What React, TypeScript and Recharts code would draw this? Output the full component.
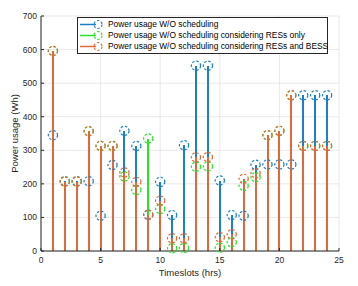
import { ComposedChart, Bar, Scatter, XAxis, YAxis, CartesianGrid, Legend } from "recharts"

const timeslots = [1, 2, 3, 4, 5, 6, 7, 8, 9, 10, 11, 12, 13, 14, 15, 16, 17, 18, 19, 20, 21, 22, 23, 24]
const usageNoSched = [345, 208, 208, 208, 105, 256, 358, 313, 108, 206, 107, 315, 552, 552, 210, 107, 105, 257, 258, 258, 258, 464, 464, 464]
const usageRes = [596, 207, 207, 357, 313, 313, 222, 182, 335, 125, 8, 9, 251, 252, 10, 26, 194, 220, 345, 358, 464, 313, 313, 313]
const usageResBess = [596, 207, 207, 357, 313, 313, 234, 206, 108, 150, 38, 38, 279, 280, 41, 50, 215, 232, 345, 358, 464, 313, 313, 313]

const xTicks = [0, 5, 10, 15, 20, 25]
const yTicks = [0, 100, 200, 300, 400, 500, 600, 700]
const seriesNames = [
  "Power usage W/O scheduling",
  "Power usage W/O scheduling considering RESs only",
  "Power usage W/O scheduling considering RESs and BESS",
]

const BLUE = "#1a80c8"
const GREEN = "#22e622"
const ORANGE = "#e0683a"
const colors = [BLUE, GREEN, ORANGE]
const AXIS = "#262626"
const FONT = "'Liberation Sans', Arial, sans-serif"

const data = timeslots.map((t, i) => ({
  t,
  blue: usageNoSched[i],
  green: usageRes[i],
  orange: usageResBess[i],
}))

const ring = (color: string) => (props: any) => (
  <circle cx={props.cx} cy={props.cy} r={4.6} fill="none" stroke={color} strokeWidth={1.2} strokeDasharray="2.5 1.8" />
)

// stem drawn on whole pixels so the stems stacked underneath don't bleed through
const stem = (color: string) => (props: any) => {
  const cx = Math.round(props.x + props.width / 2)
  return <rect x={cx - 1} y={props.y} width={2} height={props.height} fill={color} shapeRendering="crispEdges" />
}

function StemLegend() {
  return (
    <div
      style={{
        border: `1px solid ${AXIS}`,
        background: "#fff",
        width: 249,
        height: 34,
        boxSizing: "content-box",
        fontFamily: FONT,
        fontSize: 8.4,
        color: "#000",
        paddingTop: 1,
      }}
    >
      {seriesNames.map((name, i) => (
        <div key={name} style={{ display: "flex", alignItems: "center", height: 11, lineHeight: "11px" }}>
          <svg width={30} height={11} style={{ flexShrink: 0 }}>
            <line x1={2} y1={5.5} x2={18} y2={5.5} stroke={colors[i]} strokeWidth={1.5} />
            <circle cx={20} cy={5.5} r={4} fill="none" stroke={colors[i]} strokeWidth={1.1} strokeDasharray="2.5 1.8" />
          </svg>
          <span style={{ whiteSpace: "nowrap" }}>{name}</span>
        </div>
      ))}
    </div>
  )
}

export default function App() {
  return (
    <div style={{ position: "absolute", left: 0, top: 0, background: "#fff" }}>
      <ComposedChart width={358} height={286} data={data} margin={{ top: 16, right: 19, bottom: 15, left: 11 }}>
        <CartesianGrid xAxisId="b" stroke="#e3e3e3" strokeWidth={0.8} />
        <XAxis
          xAxisId="b"
          dataKey="t"
          type="number"
          domain={[0, 25]}
          ticks={xTicks}
          height={20}
          stroke={AXIS}
          tickSize={-3}
          tickMargin={9}
          tick={{ fill: AXIS, fontSize: 8.5, fontFamily: FONT }}
          label={{
            content: ({ viewBox }: any) => (
              <text x={viewBox.x + viewBox.width / 2} y={276} textAnchor="middle" fill={AXIS} fontSize={9.5} fontFamily={FONT}>
                Timeslots (hrs)
              </text>
            ),
          }}
        />
        <XAxis xAxisId="g" dataKey="t" type="number" domain={[0, 25]} hide />
        <XAxis xAxisId="o" dataKey="t" type="number" domain={[0, 25]} hide />
        <XAxis
          xAxisId="top"
          orientation="top"
          dataKey="t"
          type="number"
          domain={[0, 25]}
          ticks={xTicks}
          height={0}
          stroke={AXIS}
          tickSize={-3}
          tickFormatter={() => ""}
        />
        <YAxis
          type="number"
          domain={[0, 700]}
          ticks={yTicks}
          width={30}
          stroke={AXIS}
          tickSize={-3}
          tickMargin={7}
          tick={{ fill: AXIS, fontSize: 8.5, fontFamily: FONT }}
          label={{
            content: ({ viewBox }: any) => (
              <text
                x={14}
                y={viewBox.y + viewBox.height / 2}
                transform={`rotate(-90 14 ${viewBox.y + viewBox.height / 2})`}
                textAnchor="middle"
                dominantBaseline="central"
                fill={AXIS}
                fontSize={9.5}
                fontFamily={FONT}
              >
                Power usage (Wh)
              </text>
            ),
          }}
        />
        <YAxis
          yAxisId="right"
          orientation="right"
          type="number"
          domain={[0, 700]}
          ticks={yTicks}
          width={0}
          stroke={AXIS}
          tickSize={-3}
          tickFormatter={() => ""}
        />
        <Bar xAxisId="b" dataKey="blue" fill={BLUE} barSize={2} shape={stem(BLUE)} isAnimationActive={false} />
        <Bar xAxisId="g" dataKey="green" fill={GREEN} barSize={2} shape={stem(GREEN)} isAnimationActive={false} />
        <Bar xAxisId="o" dataKey="orange" fill={ORANGE} barSize={2} shape={stem(ORANGE)} isAnimationActive={false} />
        <Scatter xAxisId="b" dataKey="blue" shape={ring(BLUE)} isAnimationActive={false} />
        <Scatter xAxisId="g" dataKey="green" shape={ring(GREEN)} isAnimationActive={false} />
        <Scatter xAxisId="o" dataKey="orange" shape={ring(ORANGE)} isAnimationActive={false} />
        <Legend
          layout="horizontal"
          verticalAlign="middle"
          align="center"
          content={() => <StemLegend />}
          wrapperStyle={{ position: "absolute", left: 77, top: 17, width: "auto" }}
        />
      </ComposedChart>
    </div>
  )
}
